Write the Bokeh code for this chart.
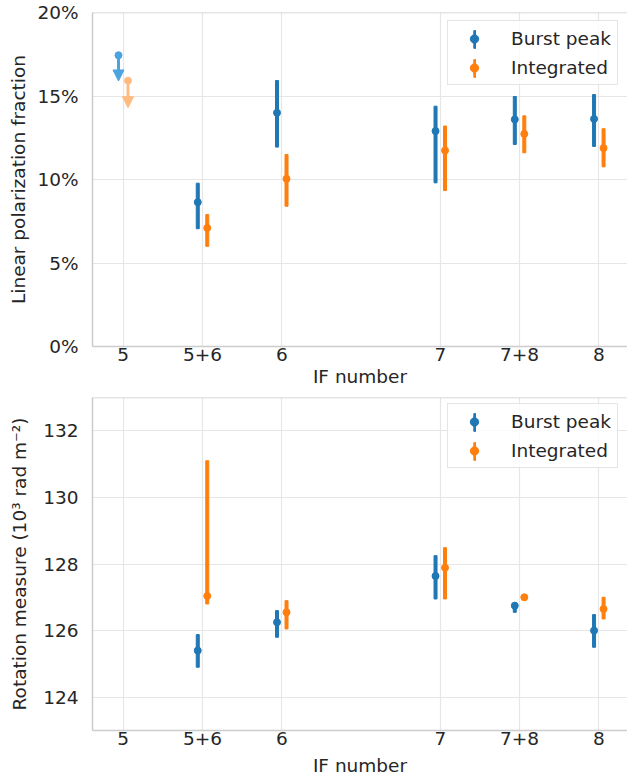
from bokeh.plotting import figure
from bokeh.models import (ColumnDataSource, FixedTicker, PrintfTickFormatter, Legend,
                          LegendItem, Arrow, NormalHead, Span, Range1d)
from bokeh.layouts import column
from bokeh.embed import file_html
from bokeh.resources import INLINE

# IF bands (combined bands sit half-way between their members)
if_labels = ["5", "5+6", "6", "7", "7+8", "8"]
if_pos = [5, 5.5, 6, 7, 7.5, 8]

# Linear polarization fraction (%), with asymmetric errors
lp_peak = [None, 8.64, 14.0, 12.9, 13.6, 13.63]
lp_peak_minus = [None, 1.59, 2.06, 3.1, 1.5, 1.65]
lp_peak_plus = [None, 1.14, 1.93, 1.49, 1.37, 1.46]
lp_int = [None, 7.10, 10.04, 11.74, 12.73, 11.88]
lp_int_minus = [None, 1.10, 1.64, 2.40, 1.13, 1.12]
lp_int_plus = [None, 0.80, 1.46, 1.46, 1.08, 1.16]

# Upper limits on the polarization fraction in IF 5 (%), and arrow lengths
ul_pos = [5]
ul_peak = [17.44]
ul_peak_len = [1.54]
ul_int = [15.92]
ul_int_len = [1.62]

# Rotation measure (10^3 rad m^-2)
rm_peak = [None, 125.40, 126.25, 127.64, 126.75, 126.00]
rm_peak_minus = [None, 0.50, 0.45, 0.69, 0.20, 0.50]
rm_peak_plus = [None, 0.48, 0.35, 0.61, 0.08, 0.48]
rm_int = [None, 127.04, 126.55, 127.89, 127.00, 126.65]
rm_int_minus = [None, 0.24, 0.50, 0.94, 0.08, 0.30]
rm_int_plus = [None, 4.06, 0.35, 0.60, 0.08, 0.35]

BLUE = "#1f77b4"
ORANGE = "#ff7f0e"
BLUE_LIGHT = "#4ba3e0"
ORANGE_LIGHT = "#ffbb80"
GRID = "#e6e6e6"
SPINE = "#cccccc"
TEXT = "#262626"
FONT = "DejaVu Sans"
FS = "18.5px"

X0, X1 = 4.806, 8.181
FRAME_W = 627 - 92
BAR_W = 3 * (X1 - X0) / FRAME_W      # 3 px wide error bars
SHIFT = 0.03                          # side-by-side offset of the two series


def errbar_source(values, minus, plus, shift):
    xs, ys, lo, hi = [], [], [], []
    for x, v, m, p in zip(if_pos, values, minus, plus):
        if v is None:
            continue
        xs.append(x + shift)
        ys.append(v)
        lo.append(v - m)
        hi.append(v + p)
    return ColumnDataSource(dict(x=xs, y=ys, lo=lo, hi=hi))


def make_panel(height, yr, ticks, border_top, border_bottom, ylabel,
               ylabel_standoff, xlabel_standoff, fmt=None):
    p = figure(width=627, height=height, x_range=Range1d(X0, X1),
               y_range=Range1d(*yr), output_backend="svg", toolbar_location=None,
               min_border_left=92, min_border_right=0, min_border_top=border_top,
               min_border_bottom=border_bottom)
    p.outline_line_color = None
    p.background_fill_color = "white"
    p.border_fill_color = "white"

    p.xaxis.ticker = FixedTicker(ticks=if_pos)
    overrides = {}
    for x, lab in zip(if_pos, if_labels):
        overrides[x] = lab
    p.xaxis.major_label_overrides = overrides
    p.yaxis.ticker = FixedTicker(ticks=ticks)
    if fmt is not None:
        p.yaxis.formatter = fmt

    for ax in (p.xaxis, p.yaxis):
        ax.axis_line_color = SPINE
        ax.axis_line_width = 1.5
        ax.major_tick_line_color = None
        ax.minor_tick_line_color = None
        ax.major_tick_out = 0
        ax.major_tick_in = 0
        ax.major_label_text_font = FONT
        ax.major_label_text_font_size = FS
        ax.major_label_text_color = TEXT
        ax.axis_label_text_font = FONT
        ax.axis_label_text_font_size = FS
        ax.axis_label_text_font_style = "normal"
        ax.axis_label_text_color = TEXT

    p.xaxis.axis_label = "IF number"
    p.xaxis.major_label_standoff = 1
    p.xaxis.axis_label_standoff = xlabel_standoff
    p.yaxis.axis_label = ylabel
    p.yaxis.major_label_standoff = 14
    p.yaxis.axis_label_standoff = ylabel_standoff

    p.grid.grid_line_color = GRID
    p.grid.grid_line_width = 1.2
    p.add_layout(Span(location=yr[1], dimension="width", line_color=SPINE, line_width=1.5))
    return p


def add_series(p, values, minus, plus, shift, color):
    src = errbar_source(values, minus, plus, shift)
    bars = p.vbar(x="x", top="hi", bottom="lo", width=BAR_W, source=src,
                  fill_color=color, line_color=color, line_width=1)
    dots = p.scatter(x="x", y="y", size=7, source=src, fill_color=color,
                     line_color=color, line_width=1)
    return bars, dots


def add_legend(p, frame_h, gap, bars, dots):
    legend_h = 6 + 22 + 7 + 22 + 6
    y = frame_h - gap - legend_h
    box = Legend(items=[LegendItem(label="Burst peak", renderers=[dots[0]]),
                        LegendItem(label="Integrated", renderers=[dots[1]])],
                 location=(355, y), margin=0, padding=6, spacing=7,
                 glyph_width=40, glyph_height=21, label_height=22, label_standoff=17,
                 label_text_font=FONT, label_text_font_size=FS, label_text_color=TEXT,
                 border_line_color=SPINE, border_line_width=1,
                 background_fill_color="white", background_fill_alpha=0.8)
    sticks = Legend(items=[LegendItem(label=" ", renderers=[bars[0]]),
                           LegendItem(label=" ", renderers=[bars[1]])],
                    location=(375, y), margin=0, padding=6, spacing=7,
                    glyph_width=3, glyph_height=22, label_height=22, label_standoff=0,
                    label_text_font=FONT, label_text_font_size=FS,
                    border_line_alpha=0, background_fill_alpha=0)
    p.add_layout(box, "center")
    p.add_layout(sticks, "center")


# --- polarization fraction ---
top = make_panel(392, (0, 20), [0, 5, 10, 15, 20], 12, 46,
                 "Linear polarization fraction", 5, 2,
                 fmt=PrintfTickFormatter(format="%d%%"))

for vals, lens, shift, color in ((ul_peak, ul_peak_len, -SHIFT, BLUE_LIGHT),
                                 (ul_int, ul_int_len, SHIFT, ORANGE_LIGHT)):
    src = ColumnDataSource(dict(x=[x + shift for x in ul_pos], y=vals,
                                tip=[v - l for v, l in zip(vals, lens)]))
    top.add_layout(Arrow(end=NormalHead(size=11, fill_color=color, line_color=color,
                                        line_width=1),
                         x_start="x", y_start="y", x_end="x", y_end="tip", source=src,
                         line_color=color, line_width=3))
    top.scatter(x="x", y="y", size=7, source=src, fill_color=color, line_color=color)

b1 = add_series(top, lp_peak, lp_peak_minus, lp_peak_plus, -SHIFT, BLUE)
b2 = add_series(top, lp_int, lp_int_minus, lp_int_plus, SHIFT, ORANGE)
add_legend(top, 334, 10, (b1[0], b2[0]), (b1[1], b2[1]))

# --- rotation measure ---
bottom = make_panel(389, (123, 133), [124, 126, 128, 130, 132], 5, 51,
                    "Rotation measure (10\u00b3 rad m\u207b\u00b2)", 10, 7)
c1 = add_series(bottom, rm_peak, rm_peak_minus, rm_peak_plus, -SHIFT, BLUE)
c2 = add_series(bottom, rm_int, rm_int_minus, rm_int_plus, SHIFT, ORANGE)
add_legend(bottom, 333, 8, (c1[0], c2[0]), (c1[1], c2[1]))

layout = column(top, bottom, spacing=0)
open("out.html", "w").write(file_html(layout, INLINE))
